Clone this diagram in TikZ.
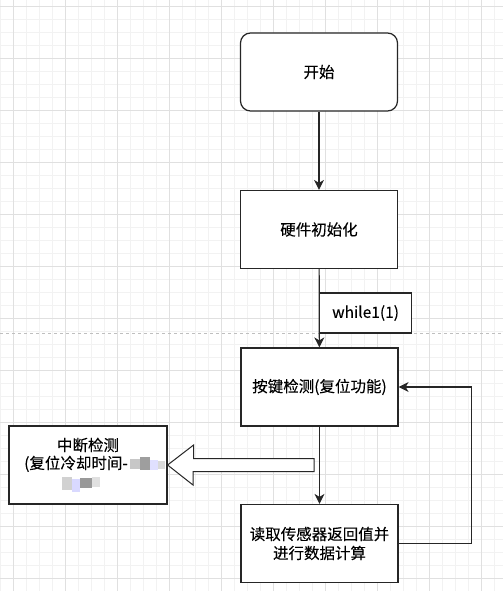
\documentclass[tikz,border=0pt]{standalone}
\usepackage{fontspec}
\setmainfont{Noto Sans CJK SC}[FakeBold=0.15]
\usetikzlibrary{arrows.meta}

\begin{document}
\begin{tikzpicture}[x=1pt,y=-1pt,
	gridminor/.style={draw=black!5,line width=.8pt},
	gridmajor/.style={draw=black!12,line width=.8pt},
	box/.style={draw=black!85,line width=1.2pt,fill=white,minimum width=157pt,minimum height=78pt,align=center,inner sep=0pt,font=\fontsize{15.5}{19}\selectfont},
	flow/.style={draw=black!85,line width=1.2pt,-{Stealth[length=10pt,width=10pt,inset=3pt]}}]
	\useasboundingbox[fill=white] (0,0) rectangle (503,591);
	\foreach \gx in {0,13,...,500} \draw[gridminor] (\gx,0) -- (\gx,591);
	\foreach \gy in {6,19,...,590} \draw[gridminor] (0,\gy) -- (503,\gy);
	\foreach \gx in {13,65,...,500} \draw[gridmajor] (\gx,0) -- (\gx,591);
	\foreach \gy in {6,58,...,590} \draw[gridmajor] (0,\gy) -- (503,\gy);
	\draw[black!25,line width=.8pt,dash pattern=on 3pt off 3pt] (0,333) -- (503,333);

	\node[box,rounded corners=10pt] (start) at (319,72) {开始};
	\node[box] (init) at (319,229.5) {硬件初始化};
	\node[box] (key) at (319.5,387) {按键检测(复位功能)};
	\node[box] (read) at (319.5,543.5) {读取传感器返回值并\\进行数据计算};
	\node[box,minimum width=158pt,font=\fontsize{15.5}{18}\selectfont] (irq) at (88,465) {中断检测\\\rule{12pt}{0pt}(复位冷却时间-\rule{36pt}{0pt}\\\strut};
	\node[box,anchor=west,minimum width=92pt,minimum height=40pt] (loop) at (319,313) {while1(1)};

	\fill[black!22] (130,459) rectangle (140,469);
	\fill[black!38] (140,457) rectangle (150,470);
	\fill[blue!12] (150,460) rectangle (158,470);
	\fill[black!15] (158,461) rectangle (165,469);
	\fill[black!18] (62,477) rectangle (72,490);
	\fill[blue!15] (72,479) rectangle (80,492);
	\fill[black!40] (80,478) rectangle (92,488);
	\fill[black!12] (92,477) rectangle (100,487);

	\draw[flow] (start) -- (init);
	\draw[flow] (init) -- (key);
	\draw[flow] (key) -- (read);
	\draw[flow] (read.east) -- ++(73,0) |- (key.east);

	\coordinate (tail) at (314,465);
	\draw[black!85,line width=1pt,fill=white,line join=miter] (irq.east) -- ++(26,-20) -- ++(0,13.5) -- (tail |- 0,458.5) -- (tail |- 0,471.5) -- (193,471.5) -- (193,485) -- cycle;
\end{tikzpicture}
\end{document}
